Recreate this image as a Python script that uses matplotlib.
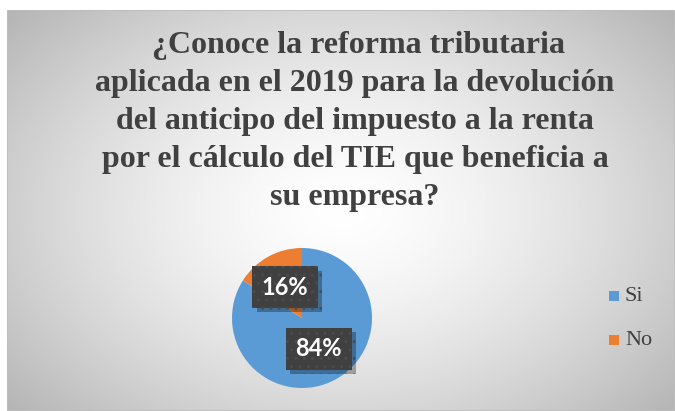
import numpy as np
import matplotlib
matplotlib.use("Agg")
import matplotlib.pyplot as plt
from matplotlib.patches import Rectangle
import matplotlib.patheffects as pe

categories = ["Si", "No"]
values = [84, 16]
colors = ["#5B9BD5", "#ED7D31"]
title = " ¿Conoce la reforma tributaria\naplicada en el 2019 para la devolución\ndel anticipo del impuesto a la renta\npor el cálculo del TIE que beneficia a\nsu empresa?"

W, H = 675, 411
fig = plt.figure(figsize=(W / 100, H / 100), dpi=100)
fig.patch.set_facecolor("white")

# background frame with radial gradient
fx0, fy0, fx1, fy1 = 7, 10, 675, 411  # pixels, y from top
bg = fig.add_axes([fx0 / W, 1 - fy1 / H, (fx1 - fx0) / W, (fy1 - fy0) / H])
ny, nx = 200, 330
yy, xx = np.mgrid[0:ny, 0:nx]
cx, cy = nx * 0.50, ny * 0.50
r = np.sqrt(((xx - cx) / (nx * 0.55)) ** 2 + ((yy - cy) / (ny * 0.62)) ** 2)
r = np.clip(r, 0, 1.2)
val = 1.0 - 0.22 * r ** 1.5
img = np.dstack([val, val, val])
bg.imshow(img, aspect="auto", extent=[0, 1, 0, 1], interpolation="bilinear")
bg.set_xlim(0, 1); bg.set_ylim(0, 1)
bg.axis("off")
bg.add_patch(Rectangle((0, 0), 1, 1, transform=bg.transAxes, fill=False,
                       ec="#BDBDBD", lw=1.2))

# title
fig.text(355 / W, 1 - 31 / H, title, ha="center", va="top",
         family="Liberation Serif", weight="bold", fontsize=23,
         color="#404040", linespacing=1.41)

# pie
pcx, pcy, pr = 302, 318, 70
ax = fig.add_axes([(pcx - pr) / W, (H - pcy - pr) / H, 2 * pr / W, 2 * pr / H])
wedges, texts, autotexts = ax.pie(values, colors=colors, startangle=90, counterclock=False,
                                  autopct=lambda p: f"{p:.0f}%", pctdistance=0.5,
                                  wedgeprops=dict(linewidth=0))
ax.set_xlim(-1, 1); ax.set_ylim(-1, 1); ax.set_aspect("equal")
for t in autotexts:
    t.set_fontfamily("Lato"); t.set_fontweight("bold"); t.set_fontsize(17)
    t.set_color("white")
    t.set_bbox(dict(boxstyle="square,pad=0.4", fc="#404040", ec="#4b4b4b", lw=0,
                    hatch=".."))
    t.get_bbox_patch().set_path_effects([
        pe.SimplePatchShadow(offset=(3, -3), shadow_rgbFace="black", alpha=0.3),
        pe.Normal()])

# legend
leg_y = [296, 340]
for lab, col, ly in zip(categories, colors, leg_y):
    fig.patches.append(Rectangle((609 / W, 1 - (ly + 5) / H), 10 / W, 10 / H,
                                 transform=fig.transFigure, fc=col, ec="none"))
    fig.text(625 / W, 1 - ly / H, lab, ha="left", va="center",
             family="Liberation Serif", fontsize=16, color="#404040")

fig.savefig("out.png", dpi=100)
